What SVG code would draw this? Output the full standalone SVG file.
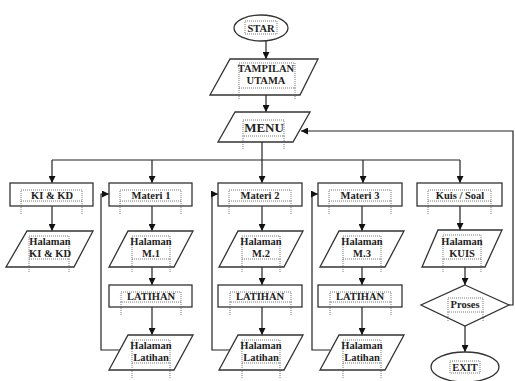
<svg xmlns="http://www.w3.org/2000/svg" width="515" height="381" viewBox="0 0 515 381">
<style>
.s{fill:#fff;stroke:#333;stroke-width:1.3}
.c{fill:none;stroke:#222;stroke-width:1.2}
.t{font-family:"Liberation Serif","Times New Roman",serif;font-weight:bold;font-size:10.5px;fill:#222;text-anchor:middle}
.m{font-size:13px}
.f{fill:none;stroke:#555;stroke-width:0.8;stroke-dasharray:1,1}
</style>
<defs>
<marker id="a" viewBox="0 0 10 10" refX="10" refY="5" markerWidth="7" markerHeight="7" orient="auto" markerUnits="userSpaceOnUse">
<path d="M0,0 L10,5 L0,10 z" fill="#111"/>
</marker>
</defs>
<g id="connectors">
<path class="c" d="M266,41 V59" marker-end="url(#a)"/>
<path class="c" d="M266,95 V112" marker-end="url(#a)"/>
<path class="c" d="M262,142 V160"/>
<path class="c" d="M52,160 H460"/>
<path class="c" d="M52,160 V183" marker-end="url(#a)"/>
<path class="c" d="M152,160 V183" marker-end="url(#a)"/>
<path class="c" d="M262,160 V183" marker-end="url(#a)"/>
<path class="c" d="M363,160 V183" marker-end="url(#a)"/>
<path class="c" d="M460,160 V183" marker-end="url(#a)"/>
<path class="c" d="M52,206 V231" marker-end="url(#a)"/>
<path class="c" d="M152,206 V231" marker-end="url(#a)"/>
<path class="c" d="M262,206 V231" marker-end="url(#a)"/>
<path class="c" d="M362,206 V231" marker-end="url(#a)"/>
<path class="c" d="M460,206 V230" marker-end="url(#a)"/>
<path class="c" d="M152,267 V285" marker-end="url(#a)"/>
<path class="c" d="M262,267 V285" marker-end="url(#a)"/>
<path class="c" d="M362,267 V285" marker-end="url(#a)"/>
<path class="c" d="M465,267 V285" marker-end="url(#a)"/>
<path class="c" d="M152,307 V335" marker-end="url(#a)"/>
<path class="c" d="M262,307 V335" marker-end="url(#a)"/>
<path class="c" d="M362,307 V335" marker-end="url(#a)"/>
<path class="c" d="M465,326 V352" marker-end="url(#a)"/>
<path class="c" d="M120,350 H101 V194 H109" marker-end="url(#a)"/>
<path class="c" d="M230,350 H212 V194 H218" marker-end="url(#a)"/>
<path class="c" d="M330,350 H312 V194 H318" marker-end="url(#a)"/>
<path class="c" d="M509,305 H513 V131 H301" marker-end="url(#a)"/>
</g>
<g id="star"><ellipse class="s" cx="261" cy="28" rx="27" ry="13"/><rect class="f" x="245" y="21" width="32" height="13"/><text class="t" x="261" y="32">STAR</text></g>
<g id="tampilan"><path class="s" d="M230,59 H318 L300,95 H210 Z"/><rect class="f" x="239" y="63" width="56" height="25"/><path class="f" d="M239,88 V100 M295,88 V100"/><text class="t" x="266" y="72">TAMPILAN</text><text class="t" x="266" y="84">UTAMA</text></g>
<g id="menu"><path class="s" d="M235,112 H310 L293,142 H218 Z"/><rect class="f" x="243" y="120" width="41" height="16"/><path class="f" d="M243,136 V150 M284,136 V150"/><text class="t m" x="264" y="132">MENU</text></g>
<g id="kikd"><rect class="s" x="10" y="183" width="83" height="23"/><rect class="f" x="21" y="190" width="61" height="11"/><path class="f" d="M21,201 V214 M82,201 V214"/><text class="t" x="52" y="199">KI &amp; KD</text></g>
<g id="materi1"><rect class="s" x="109" y="183" width="83" height="23"/><rect class="f" x="120" y="190" width="61" height="11"/><path class="f" d="M120,201 V214 M181,201 V214"/><text class="t" x="151" y="199">Materi 1</text></g>
<g id="materi2"><rect class="s" x="218" y="183" width="84" height="23"/><rect class="f" x="229" y="190" width="62" height="11"/><path class="f" d="M229,201 V214 M291,201 V214"/><text class="t" x="260" y="199">Materi 2</text></g>
<g id="materi3"><rect class="s" x="318" y="183" width="84" height="23"/><rect class="f" x="329" y="190" width="62" height="11"/><path class="f" d="M329,201 V214 M391,201 V214"/><text class="t" x="360" y="199">Materi 3</text></g>
<g id="kuis"><rect class="s" x="417" y="183" width="85" height="23"/><rect class="f" x="428" y="190" width="63" height="11"/><path class="f" d="M428,201 V214 M491,201 V214"/><text class="t" x="460" y="199">Kuis / Soal</text></g>
<g id="hkikd"><path class="s" d="M27,231 H93 L74,267 H6 Z"/><rect class="f" x="29" y="236" width="40" height="23"/><path class="f" d="M29,259 V272 M69,259 V272"/><text class="t" x="50" y="245">Halaman</text><text class="t" x="50" y="257">KI &amp; KD</text></g>
<g id="hm1"><path class="s" d="M128,231 H193 L174,267 H109 Z"/><rect class="f" x="132" y="236" width="38" height="23"/><path class="f" d="M132,259 V272 M170,259 V272"/><text class="t" x="151" y="245">Halaman</text><text class="t" x="151" y="257">M.1</text></g>
<g id="hm2"><path class="s" d="M238,231 H303 L284,267 H219 Z"/><rect class="f" x="242" y="236" width="38" height="23"/><path class="f" d="M242,259 V272 M280,259 V272"/><text class="t" x="261" y="245">Halaman</text><text class="t" x="261" y="257">M.2</text></g>
<g id="hm3"><path class="s" d="M339,231 H404 L385,267 H320 Z"/><rect class="f" x="343" y="236" width="38" height="23"/><path class="f" d="M343,259 V272 M381,259 V272"/><text class="t" x="362" y="245">Halaman</text><text class="t" x="362" y="257">M.3</text></g>
<g id="hkuis"><path class="s" d="M438,230 H502 L485,267 H422 Z"/><rect class="f" x="443" y="235" width="38" height="24"/><path class="f" d="M443,259 V272 M481,259 V272"/><text class="t" x="462" y="245">Halaman</text><text class="t" x="462" y="257">KUIS</text></g>
<g id="lat1"><rect class="s" x="109" y="285" width="83" height="22"/><rect class="f" x="121" y="292" width="60" height="10"/><path class="f" d="M121,302 V315 M181,302 V315"/><text class="t" x="151" y="300">LATIHAN</text></g>
<g id="lat2"><rect class="s" x="218" y="285" width="84" height="22"/><rect class="f" x="230" y="292" width="61" height="10"/><path class="f" d="M230,302 V315 M291,302 V315"/><text class="t" x="260" y="300">LATIHAN</text></g>
<g id="lat3"><rect class="s" x="318" y="285" width="84" height="22"/><rect class="f" x="330" y="292" width="61" height="10"/><path class="f" d="M330,302 V315 M391,302 V315"/><text class="t" x="360" y="300">LATIHAN</text></g>
<g id="proses"><path class="s" d="M465,285 L509,305 L465,326 L421,305 Z"/><rect class="f" x="448" y="298" width="35" height="14"/><path class="f" d="M448,312 V322 M483,312 V322"/><text class="t" x="465" y="308">Proses</text></g>
<g id="hl1"><path class="s" d="M128,335 H193 L174,370 H109 Z"/><rect class="f" x="132" y="340" width="38" height="23"/><path class="f" d="M132,363 V378 M170,363 V378"/><text class="t" x="151" y="349">Halaman</text><text class="t" x="151" y="361">Latihan</text></g>
<g id="hl2"><path class="s" d="M238,335 H303 L284,370 H219 Z"/><rect class="f" x="242" y="340" width="38" height="23"/><path class="f" d="M242,363 V378 M280,363 V378"/><text class="t" x="261" y="349">Halaman</text><text class="t" x="261" y="361">Latihan</text></g>
<g id="hl3"><path class="s" d="M339,335 H404 L385,370 H320 Z"/><rect class="f" x="343" y="340" width="38" height="23"/><path class="f" d="M343,363 V378 M381,363 V378"/><text class="t" x="362" y="349">Halaman</text><text class="t" x="362" y="361">Latihan</text></g>
<g id="exit"><ellipse class="s" cx="465" cy="367" rx="34" ry="15"/><rect class="f" x="450" y="361" width="30" height="12"/><text class="t" x="465" y="371">EXIT</text></g>
</svg>
